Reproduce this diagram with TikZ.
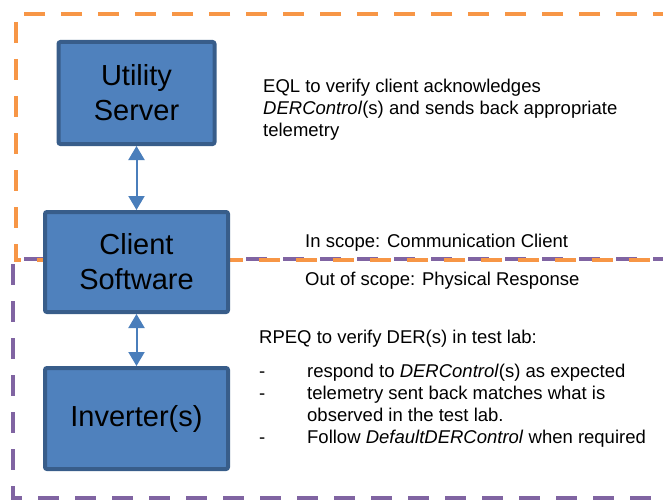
\documentclass[tikz,border=0pt]{standalone}
\usepackage{fontspec}
\setmainfont{Liberation Sans}
\usetikzlibrary{arrows.meta}

\definecolor{orangerand}{HTML}{F79646}
\definecolor{lilarand}{HTML}{8064A2}
\definecolor{kastenblau}{HTML}{4F81BD}
\definecolor{kastenrand}{HTML}{385D8A}
\definecolor{pfeilblau}{HTML}{4A7EBB}

\begin{document}
\begin{tikzpicture}[x=1pt,y=-1pt,
    kasten/.style={rectangle, rounded corners=2pt, draw=kastenrand, line width=4pt,
      fill=kastenblau, align=center, inner sep=0pt,
      font=\fontsize{29}{35}\selectfont},
    notiz/.style={anchor=base west, inner sep=0pt,
      font=\fontsize{18.5}{22}\selectfont},
    rand/.style={line width=4pt, dash pattern=on 21pt off 16pt, dash phase=31pt},
    pfeil/.style={{Triangle[width=16pt,length=14pt]}-{Triangle[width=16pt,length=14pt]},
      pfeilblau, line width=2pt},
]
\useasboundingbox (0,0) rectangle (663,500);

% scope lines
\draw [rand, lilarand] (680,259) -- (13,259) -- (13,498) -- (680,498);
\draw [rand, orangerand] (680,14) -- (16,14) -- (16,260) -- (680,260);

% blocks
\node [kasten, minimum width=156pt, minimum height=102pt] (US) at (136.5,93) {Utility\\Server};
\node [kasten, minimum width=183pt, minimum height=100pt] (CS) at (136.5,262) {Client\\Software};
\node [kasten, minimum width=183pt, minimum height=101pt] (INV) at (136.5,418.5) {Inverter(s)};

\draw [pfeil] (US) -- (CS);
\draw [pfeil] (CS) -- (INV);

% notes (base = last line)
\node [notiz, align=left] (eql) at (263,136) {EQL to verify client acknowledges\\
  \textit{DERControl}(s) and sends back appropriate\\telemetry};
\node [notiz] (in) at (305,247) {In scope: Communication Client};
\node [notiz] (out) at (305,285) {Out of scope: Physical Response};
\node [notiz] (rpeq) at (259,343) {RPEQ to verify DER(s) in test lab:};
\node [notiz] (liste) at (259,377) {\begin{tabular}[t]{@{}p{48pt}@{}l@{}}
  - & respond to \textit{DERControl}(s) as expected\\
  - & telemetry sent back matches what is\\
    & observed in the test lab.\\
  - & Follow \textit{DefaultDERControl} when required
  \end{tabular}};

\end{tikzpicture}
\end{document}
